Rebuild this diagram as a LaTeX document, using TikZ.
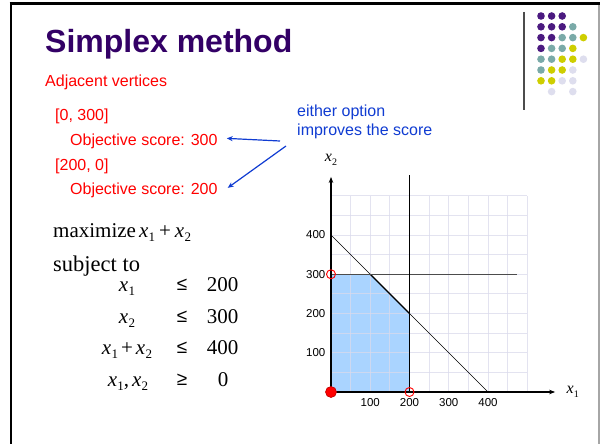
\documentclass[tikz,border=0pt]{standalone}
\usepackage{fontspec}
\setmainfont{Liberation Serif}
\newfontfamily\arial{Liberation Sans}
\usetikzlibrary{arrows.meta}
\definecolor{ttl}{RGB}{51,0,102}
\definecolor{rd}{RGB}{255,0,0}
\definecolor{bl}{RGB}{16,60,210}
\definecolor{lp}{RGB}{75,26,128}
\definecolor{lt}{RGB}{122,170,168}
\definecolor{ly}{RGB}{206,206,0}
\definecolor{ll}{RGB}{222,222,238}
\definecolor{gridc}{RGB}{218,218,236}
\definecolor{feas}{RGB}{170,212,255}
\newcommand{\xs}[1]{\textit{x}\kern0.3pt\raisebox{-4.5pt}{\fontsize{13}{13}\selectfont #1}}
\newcommand{\xsm}[1]{\textit{x}\kern0.2pt\raisebox{-3.5pt}{\fontsize{10}{10}\selectfont #1}}
\begin{document}
\begin{tikzpicture}[x=1pt,y=-1pt,
  redtxt/.style={anchor=base west,inner sep=0,font=\arial\fontsize{16}{18}\selectfont,text=rd},
  bluetxt/.style={anchor=base west,inner sep=0,font=\arial\fontsize{16}{18}\selectfont,text=bl},
  mtxt/.style={anchor=base,inner sep=0,font=\fontsize{21}{24}\selectfont},
  reltxt/.style={anchor=base,inner sep=0,font=\arial\fontsize{19}{20}\selectfont},
  barrow/.style={draw=bl,line width=1.2pt,-{Stealth[length=6pt,width=5pt]}},
  axisline/.style={draw=black,line width=1.3pt,-{Stealth[length=6pt,width=4.5pt]}},
  ticklbl/.style={inner sep=0,font=\arial\fontsize{11.5}{12}\selectfont},
  opencirc/.style={circle,draw=rd,line width=0.9pt,minimum size=9pt,inner sep=0},
  dotc/.style={circle,fill=#1,minimum size=7.6pt,inner sep=0}
]
\useasboundingbox (0,0) rectangle (600,444);
\fill[white] (0,0) rectangle (600,444);
% frame
\draw[line width=3pt] (9.5,3.5) -- (600,3.5);
\draw[line width=2.5pt] (11,2) -- (11,444);
\draw[line width=1.5pt,color=black!35] (598.8,5) -- (598.8,444);
\draw[line width=1.5pt,color=black!70] (524,12) -- (524,110);
% logo dots
\foreach \cx/\ry/\cc [count=\k] in {1/1/lp,2/1/lp,3/1/lp,
  1/2/lp,2/2/lp,3/2/lp,4/2/lt,
  1/3/lp,2/3/lp,3/3/lt,4/3/lt,5/3/ly,
  1/4/lp,2/4/lt,3/4/lt,4/4/ly,
  1/5/lt,2/5/lt,3/5/ly,4/5/ly,5/5/ll,
  1/6/lt,2/6/ly,3/6/ly,4/6/ll,
  1/7/ly,2/7/ly,3/7/ll,4/7/ll,
  2/8/ll,4/8/ll}
  \node[dotc=\cc] (dot\k) at ({541+(\cx-1)*10.6},{16+(\ry-1)*10.8}) {};
% title
\node[anchor=base west,inner sep=0,font=\arial\bfseries\fontsize{32}{36}\selectfont,text=ttl] (title) at (45,53) {Simplex method};
% red texts
\node[redtxt] (adj) at (45,86) {Adjacent vertices};
\node[redtxt] (v1) at (55,121) {[0, 300]};
\node[redtxt] (obj1) at (70,145.5) {Objective score: 300};
\node[redtxt] (v2) at (55,170) {[200, 0]};
\node[redtxt] (obj2) at (70,194.5) {Objective score: 200};
% blue annotation
\node[bluetxt] (ann1) at (297,116.5) {either option};
\node[bluetxt] (ann2) at (297,135) {improves the score};
\coordinate (s1) at (280,141);
\coordinate (s2) at (286,146);
\draw[barrow] (s1) -- ([shift={(9,-3)}]obj1.east);
\draw[barrow] (s2) -- ([shift={(10,-2.5)}]obj2.east);
% LP
\node[anchor=base west,inner sep=0,font=\fontsize{21}{24}\selectfont] (maxi) at (53,237) {maximize\kern3pt\xs{1}\kern4pt+\kern4pt\xs{2}};
\node[anchor=base west,inner sep=0,font=\fontsize{22.5}{26}\selectfont] (subj) at (53,271) {subject to};
\node[mtxt] (l1) at (127,291) {\xs{1}};
\node[mtxt] (l2) at (127,323) {\xs{2}};
\node[mtxt] (l3) at (127,354) {\xs{1}\kern3pt+\kern3pt\xs{2}};
\node[mtxt] (l4) at (128,386) {\xs{1},\kern3pt\xs{2}};
\node[reltxt] (r1) at (182,290) {≤};
\node[reltxt] (r2) at (182,322) {≤};
\node[reltxt] (r3) at (182,353) {≤};
\node[reltxt] (r4) at (182,385) {≥};
\node[mtxt] (n1) at (222.5,291) {200};
\node[mtxt] (n2) at (222.5,323) {300};
\node[mtxt] (n3) at (222.5,354) {400};
\node[mtxt] (n4) at (223,386) {0};
% graph
\begin{scope}[shift={(331,392)},x=0.3925pt,y=0.3925pt]
  \fill[feas] (0,0) -- (0,300) -- (100,300) -- (200,200) -- (200,0) -- cycle;
  \foreach \i in {50,100,...,500} {
    \draw[gridc,line width=0.8pt,opacity=0.75] (\i,0) -- (\i,500);
    \draw[gridc,line width=0.8pt,opacity=0.75] (0,\i) -- (500,\i);
  }
  \draw[black,line width=0.7pt] (0,400) -- (400,0);
  \draw[black,line width=1.4pt] (100,300) -- (200,200);
  \draw[black!70,line width=1.3pt] (0,300) -- (474,300);
  \draw[black,line width=0.8pt] (200,0) -- (200,553);
  \draw[black,line width=1pt] (200,0) -- (200,200);
  \coordinate (org) at (0,0);
  \coordinate (xend) at (571,0);
  \coordinate (yend) at (0,548);
  \draw[axisline] (org) -- (xend);
  \draw[axisline] (org) -- (yend);
  \node[ticklbl,anchor=east,xshift=-5.5pt] (ty4) at (0,400) {400};
  \node[ticklbl,anchor=east,xshift=-5.5pt] (ty3) at (0,300) {300};
  \node[ticklbl,anchor=east,xshift=-5.5pt] (ty2) at (0,200) {200};
  \node[ticklbl,anchor=east,xshift=-5.5pt] (ty1) at (0,100) {100};
  \node[ticklbl,yshift=-11pt] (tx1) at (100,0) {100};
  \node[ticklbl,yshift=-11pt] (tx2) at (200,0) {200};
  \node[ticklbl,yshift=-11pt] (tx3) at (300,0) {300};
  \node[ticklbl,yshift=-11pt] (tx4) at (400,0) {400};
  \node[opencirc] (c1) at (0,300) {};
  \node[opencirc] (c2) at (200,0) {};
  \node[circle,fill=rd,draw=rd!75!black,line width=0.6pt,minimum size=11pt,inner sep=0] (c0) at (0,0) {};
  \node[inner sep=0,font=\fontsize{16}{18}\selectfont] (lx2) at (0,591) {\xsm{2}};
  \node[inner sep=0,font=\fontsize{16}{18}\selectfont] (lx1) at (616,0) {\xsm{1}};
\end{scope}
\end{tikzpicture}
\end{document}
